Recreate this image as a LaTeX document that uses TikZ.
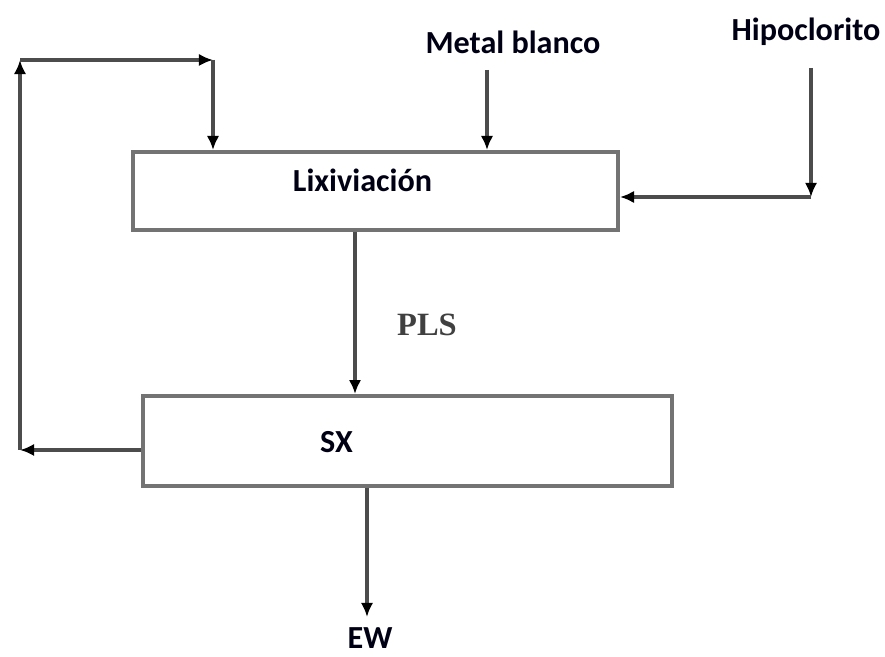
\documentclass[tikz,border=0pt]{standalone}
\usepackage{fontspec}
\setmainfont{Carlito}
\newfontfamily\plsfont{Liberation Serif}
\usetikzlibrary{arrows.meta}

\begin{document}
\begin{tikzpicture}[
    proc/.style={rectangle, draw=black!55, line width=2.2pt, fill=white, inner sep=0pt},
    lbl/.style={inner sep=0pt, font=\fontsize{18.3}{20}\selectfont\bfseries, text=black!92!blue},
    flow/.style={draw=black!70, line width=2pt, -{Latex[length=8pt,width=7pt,color=black]}}
]
  \useasboundingbox (0,0) rectangle (17.7,13.14);
  % process blocks
  \node[proc, minimum width=9.7cm, minimum height=1.56cm] (lix) at (7.51, 9.32) {};
  \node[proc, minimum width=10.58cm, minimum height=1.8cm] (sx) at (8.15, 4.32) {};
  \node[lbl] (lixtxt) at (7.25, 9.54) {Lixiviación};
  \node[lbl] (sxtxt) at (6.73, 4.30) {SX};
  % feeds
  \node[lbl] (metal) at (10.26, 12.30) {Metal blanco};
  \node[lbl] (hipo) at (16.12, 12.50) {Hipoclorito};
  \coordinate (metaltop) at (9.74, 11.74);
  \coordinate (hipotop) at (16.22, 11.78);
  \coordinate (hipocorner) at (16.22, 9.20);
  \draw[flow] (metaltop) -- (metaltop |- lix.north);
  \draw[flow] (hipotop) -- (hipocorner);
  \draw[flow] (hipocorner) -- (hipocorner -| lix.east);
  % PLS to SX
  \coordinate (plsx) at (7.10, 0);
  \draw[flow] (plsx |- lix.south) -- (plsx |- sx.north);
  \node[inner sep=0pt, font=\plsfont\bfseries\fontsize{18.5}{20}\selectfont, text=black!75] (pls) at (8.54, 6.64) {PLS};
  % product
  \coordinate (ewend) at (7.34, 0.80);
  \draw[flow] (ewend |- sx.south) -- (ewend);
  \node[lbl] (ew) at (7.40, 0.38) {EW};
  % recycle loop
  \coordinate (c1) at (0.40, 4.14);
  \coordinate (c2) at (0.40, 11.94);
  \coordinate (c3) at (4.26, 11.94);
  \draw[flow] (sx.west |- c1) -- (c1);
  \draw[flow] (c1) -- (c2);
  \draw[flow] (c2) -- (c3);
  \draw[flow] (c3) -- (c3 |- lix.north);
\end{tikzpicture}
\end{document}
